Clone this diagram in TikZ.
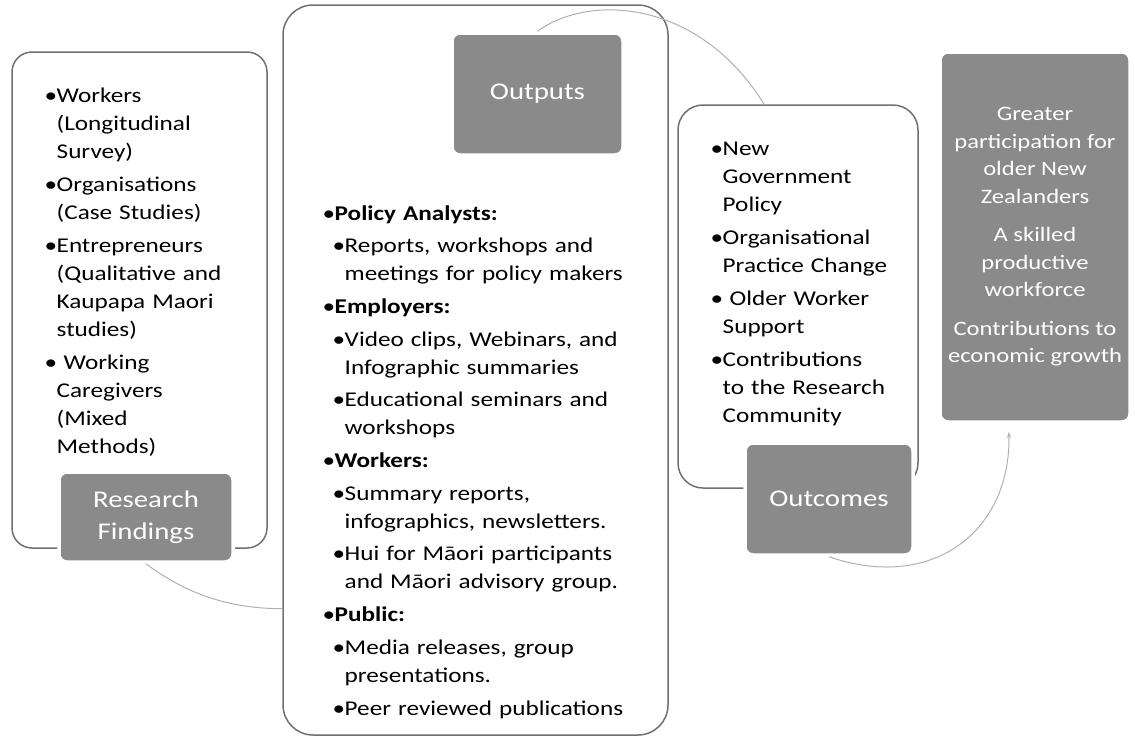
\documentclass[tikz,border=0pt]{standalone}
\usepackage{fontspec}
\setmainfont{Carlito}[FakeStretch=1.2]
\usetikzlibrary{arrows.meta,positioning}

\definecolor{frame}{HTML}{707070}
\definecolor{tagfill}{HTML}{8A8A8A}
\definecolor{linkgray}{HTML}{B0B0B0}

\newcommand{\bul}{\makebox[9.5pt][l]{\hspace*{-2.5pt}\textbullet}}
\newcommand{\ind}{\hspace*{9.5pt}}
\newcommand{\subbul}{\hspace*{10pt}\bul}
\newcommand{\subind}{\hspace*{10pt}\ind}

\begin{document}
\begin{tikzpicture} [
    x=1pt, y=-1pt,
    panel/.style={rectangle, draw=frame, line width=1.5pt, fill=white},
    tag/.style={rectangle, rounded corners=8pt, fill=tagfill, draw=white, line width=3.5pt,
                text=white, align=center, font=\fontsize{24}{32}\selectfont},
    list/.style={anchor=base west, inner sep=0pt, align=left, text width=#1,
                 font=\fontsize{21}{28}\selectfont},
    link/.style={draw=linkgray, line width=1pt},
    >={Stealth[length=6pt,width=4pt]}
    ]
    \useasboundingbox (0,0) rectangle (1135,742);
    %Panels
    \node[panel, rounded corners=20pt, minimum width=255pt, minimum height=496pt] (findbox)   at (139.5,300) {};
    \node[panel, rounded corners=30pt, minimum width=385pt, minimum height=730pt] (outbox)    at (475.5,370) {};
    \node[panel, rounded corners=25pt, minimum width=240pt, minimum height=383pt] (resultbox) at (798,296.5) {};
    %Lists
    \node[list=215pt] (findtext) at (47,102) {%
        \bul Workers\\
        \ind(Longitudinal\\
        \ind Survey)\\[5pt]
        \bul Organisations\\
        \ind(Case Studies)\\[5pt]
        \bul Entrepreneurs\\
        \ind(Qualitative and\\
        \ind Kaupapa Maori\\
        \ind studies)\\[5pt]
        \bul\ Working\\
        \ind Caregivers\\
        \ind(Mixed\\
        \ind Methods)};
    \node[list=330pt] (outtext) at (325,220) {%
        \bul\textbf{Policy Analysts:}\\[4.7pt]
        \subbul Reports, workshops and\\
        \subind meetings for policy makers\\[4.7pt]
        \bul\textbf{Employers:}\\[4.7pt]
        \subbul Video clips, Webinars, and\\
        \subind Infographic summaries\\[4.7pt]
        \subbul Educational seminars and\\
        \subind workshops\\[4.7pt]
        \bul\textbf{Workers:}\\[4.7pt]
        \subbul Summary reports,\\
        \subind infographics, newsletters.\\[4.7pt]
        \subbul Hui for Māori participants\\
        \subind and Māori advisory group.\\[4.7pt]
        \bul\textbf{Public:}\\[4.7pt]
        \subbul Media releases, group\\
        \subind presentations.\\[4.7pt]
        \subbul Peer reviewed publications};
    \node[list=200pt] (resulttext) at (713,155) {%
        \bul New\\
        \ind Government\\
        \ind Policy\\[5pt]
        \bul Organisational\\
        \ind Practice Change\\[5pt]
        \bul\ Older Worker\\
        \ind Support\\[5pt]
        \bul Contributions\\
        \ind to the Research\\
        \ind Community};
    %Tags
    \node[tag, minimum width=174pt, minimum height=90pt]  (findings) at (146,517)   {Research\\Findings};
    \node[tag, minimum width=171pt, minimum height=122pt] (outputs)  at (537.5,94)  {Outputs};
    \node[tag, minimum width=168pt, minimum height=112pt] (outcomes) at (829,499)   {Outcomes};
    \node[tag, minimum width=190pt, minimum height=370pt, font=\fontsize{20.5}{27.5}\selectfont]
        (goals) at (1035,237) {Greater\\participation for\\older New\\Zealanders\\[11pt]A skilled\\productive\\workforce\\[11pt]Contributions to\\economic growth};
    %Lines
    \draw[link] (findings.south) .. controls +(44,33) and +(-48,0) .. (outbox.231.5);
    \draw[link] (outputs.north) .. controls +(52,-38) and +(-65,-105) .. (resultbox.100);
    \draw[link, ->, shorten >=8pt] (outcomes.south) .. controls +(101,35) and +(2,110) .. (goals.262);
\end{tikzpicture}
\end{document}
